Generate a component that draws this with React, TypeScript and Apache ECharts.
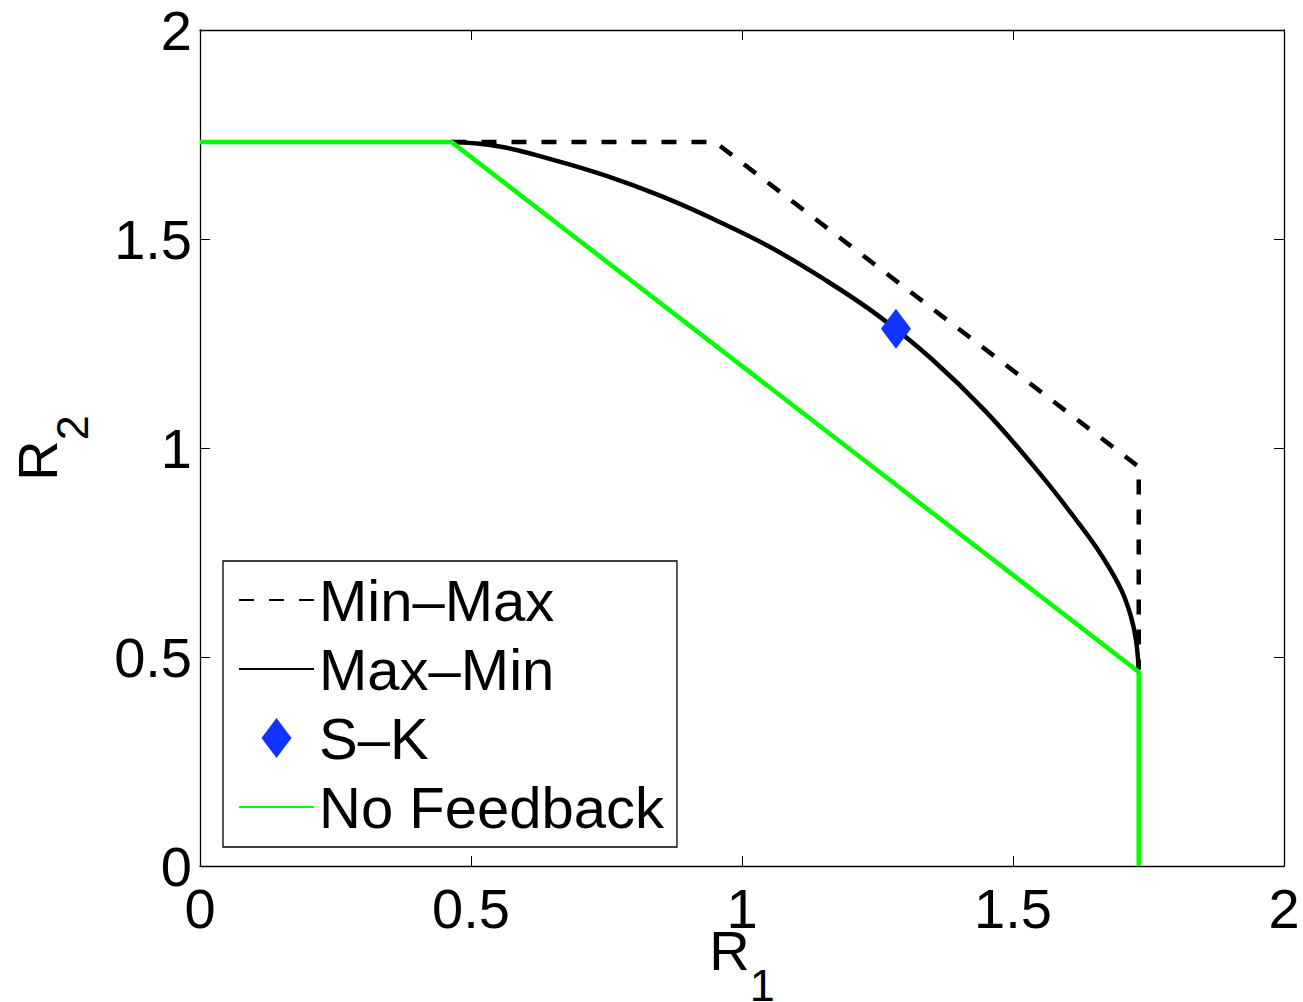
import React, { useEffect, useRef } from "react";
import * as echarts from "echarts";

const FONT = "'Liberation Sans', Arial, Helvetica, sans-serif";

// axis ranges
const xRange = [0, 2];
const yRange = [0, 2];
const tickStep = 0.5;

// series data [R1, R2]
const minMaxData: number[][] = [
  [0.464, 1.732],
  [0.95, 1.732],
  [1.732, 0.955],
  [1.732, 0.47],
];

const maxMinData: number[][] = [
  [0.464, 1.732],
  [0.55, 1.722],
  [0.65, 1.69],
  [0.75, 1.651],
  [0.85, 1.603],
  [0.95, 1.546],
  [1.05, 1.482],
  [1.15, 1.405],
  [1.25, 1.318],
  [1.35, 1.213],
  [1.45, 1.087],
  [1.55, 0.938],
  [1.62, 0.822],
  [1.665, 0.74],
  [1.7, 0.66],
  [1.718, 0.595],
  [1.727, 0.54],
  [1.732, 0.47],
];

const skData: number[][] = [[1.284, 1.285]];

const noFeedbackData: number[][] = [
  [0, 1.732],
  [0.464, 1.732],
  [1.732, 0.464],
  [1.732, 0],
];

const seriesNames = ["Min–Max", "Max–Min", "S–K", "No Feedback"];

export default function App() {
  const ref = useRef<HTMLDivElement>(null);

  useEffect(() => {
    if (!ref.current) return;
    const chart = echarts.init(ref.current, null, { renderer: "svg" });

    const nameRich = {
      a: { fontSize: 56, lineHeight: 56, verticalAlign: "top", fontFamily: FONT, color: "#000" },
      b: { fontSize: 45, lineHeight: 86, verticalAlign: "bottom", fontFamily: FONT, color: "#000" },
    };

    const baseAxis = {
      type: "value",
      interval: tickStep,
      axisLine: { show: true, onZero: false, lineStyle: { color: "#000", width: 1.3 } },
      axisTick: { show: true, inside: true, length: 10, lineStyle: { color: "#000", width: 1 } },
      splitLine: { show: false },
    };

    const hiddenSymbol = {
      color: "rgba(0,0,0,0)",
      borderColor: "rgba(0,0,0,0)",
      borderWidth: 0,
    };

    chart.setOption({
      animation: false,
      backgroundColor: "#fff",
      grid: {
        left: 200,
        right: 19,
        top: 30,
        bottom: 136,
        containLabel: false,
        outerBoundsMode: "none",
      },
      xAxis: [
        {
          ...baseAxis,
          min: xRange[0],
          max: xRange[1],
          position: "bottom",
          axisLabel: { fontSize: 56, color: "#000", fontFamily: FONT, margin: 14 },
          name: "{a|R}{b|1}",
          nameLocation: "middle",
          nameGap: 56,
          nameMoveOverlap: false,
          nameTextStyle: { fontSize: 56, color: "#000", fontFamily: FONT, rich: nameRich },
        },
        {
          ...baseAxis,
          min: xRange[0],
          max: xRange[1],
          position: "top",
          axisLabel: { show: false },
        },
      ],
      yAxis: [
        {
          ...baseAxis,
          min: yRange[0],
          max: yRange[1],
          position: "left",
          axisLabel: { fontSize: 56, color: "#000", fontFamily: FONT, margin: 8 },
          name: "{a|R}{b|2}",
          nameLocation: "middle",
          nameGap: 105,
          nameMoveOverlap: false,
          nameTextStyle: { fontSize: 56, color: "#000", fontFamily: FONT, rich: nameRich },
        },
        {
          ...baseAxis,
          min: yRange[0],
          max: yRange[1],
          position: "right",
          axisLabel: { show: false },
        },
      ],
      legend: {
        orient: "vertical",
        left: 223,
        top: 561,
        padding: [10, 13, 11, 15],
        itemGap: 11,
        itemWidth: 75,
        itemHeight: 40,
        borderColor: "#000",
        borderWidth: 1.3,
        backgroundColor: "#fff",
        selectedMode: false,
        textStyle: { fontSize: 58, color: "#000", fontFamily: FONT },
        data: [
          { name: seriesNames[0], itemStyle: hiddenSymbol },
          { name: seriesNames[1], itemStyle: hiddenSymbol },
          { name: seriesNames[2], icon: "path://M0,0L15,20L0,40L-15,20Z" },
          { name: seriesNames[3], itemStyle: hiddenSymbol },
        ],
      },
      series: [
        {
          name: seriesNames[0],
          type: "line",
          data: minMaxData,
          symbol: "none",
          lineStyle: { color: "#000", width: 4.5, type: [15, 15] },
          itemStyle: { color: "#000" },
        },
        {
          name: seriesNames[1],
          type: "line",
          data: maxMinData,
          symbol: "none",
          smooth: 0.4,
          lineStyle: { color: "#000", width: 4.5 },
          itemStyle: { color: "#000" },
        },
        {
          name: seriesNames[2],
          type: "scatter",
          data: skData,
          symbol: "diamond",
          symbolSize: [30, 40],
          itemStyle: { color: "#1133ff", opacity: 1 },
          z: 5,
        },
        {
          name: seriesNames[3],
          type: "line",
          data: noFeedbackData,
          symbol: "none",
          lineStyle: { color: "#00ff00", width: 4.5 },
          itemStyle: { color: "#00ff00" },
          z: 3,
        },
      ],
    });

    return () => chart.dispose();
  }, []);

  return (
    <div
      ref={ref}
      style={{ position: "absolute", left: 0, top: 0, width: 1303, height: 1002 }}
    />
  );
}
